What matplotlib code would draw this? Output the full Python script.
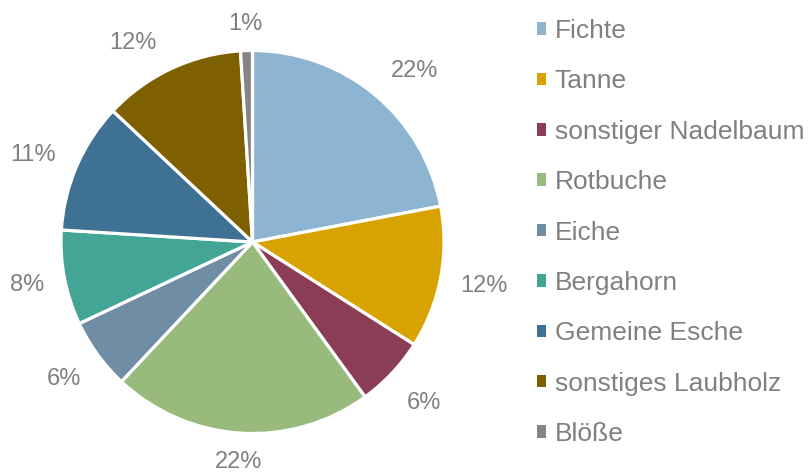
import numpy as np
import matplotlib
matplotlib.use("Agg")
import matplotlib.pyplot as plt
from matplotlib.patches import Patch

categories = ["Fichte", "Tanne", "sonstiger Nadelbaum", "Rotbuche", "Eiche",
              "Bergahorn", "Gemeine Esche", "sonstiges Laubholz", "Blöße"]
values = [22, 12, 6, 22, 6, 8, 11, 12, 1]
labels = ["22%", "12%", "6%", "22%", "6%", "8%", "11%", "12%", "1%"]

colors = ["#8DB4D0", "#D8A300", "#8B3D55", "#98BB7D", "#6F8EA5",
          "#42A596", "#3E7193", "#7F6000", "#858585"]
# label placement style (radial distance, angular nudge in degrees)
label_dist = [1.228, 1.23, 1.23, 1.15, 1.22, 1.20, 1.235, 1.211, 1.14]
label_nudge = [3.8, 0, 0, 0, 0, 0, -1.8, -5.8, 0]

plt.rcParams['font.family'] = ['Liberation Sans', 'DejaVu Sans']
txt_color = "#808080"

fig = plt.figure(figsize=(8.08, 4.72), dpi=100)
W, H = 808, 472
cx, cy, r = 252.5, 242, 191.5
ax = fig.add_axes([(cx - r) / W, (H - cy - r) / H, 2 * r / W, 2 * r / H])
wedges, _ = ax.pie(values, colors=colors, startangle=90, counterclock=False,
                   radius=1.0, wedgeprops=dict(edgecolor="white", linewidth=2.3))
ax.set_xlim(-1, 1)
ax.set_ylim(-1, 1)
ax.set_axis_off()

total = sum(values)
cum = np.cumsum([0] + values)
for i, lab in enumerate(labels):
    mid = (cum[i] + values[i] / 2) / total * 360.0 + label_nudge[i]
    ang = np.deg2rad(90 - mid)
    d = label_dist[i]
    ax.text(d * np.cos(ang), d * np.sin(ang), lab, ha="center", va="center",
            fontsize=17, color=txt_color, clip_on=False)

handles = [Patch(facecolor=c, edgecolor="none") for c in colors]
leg = fig.legend(handles, categories, loc="upper left",
                 bbox_to_anchor=(537 / W, 1 - 19 / H), frameon=False,
                 fontsize=19, labelcolor=txt_color,
                 handlelength=0.35, handleheight=0.35, handletextpad=0.32,
                 labelspacing=1.0, borderpad=0.0, borderaxespad=0.0)

fig.savefig("out.png", dpi=100)
